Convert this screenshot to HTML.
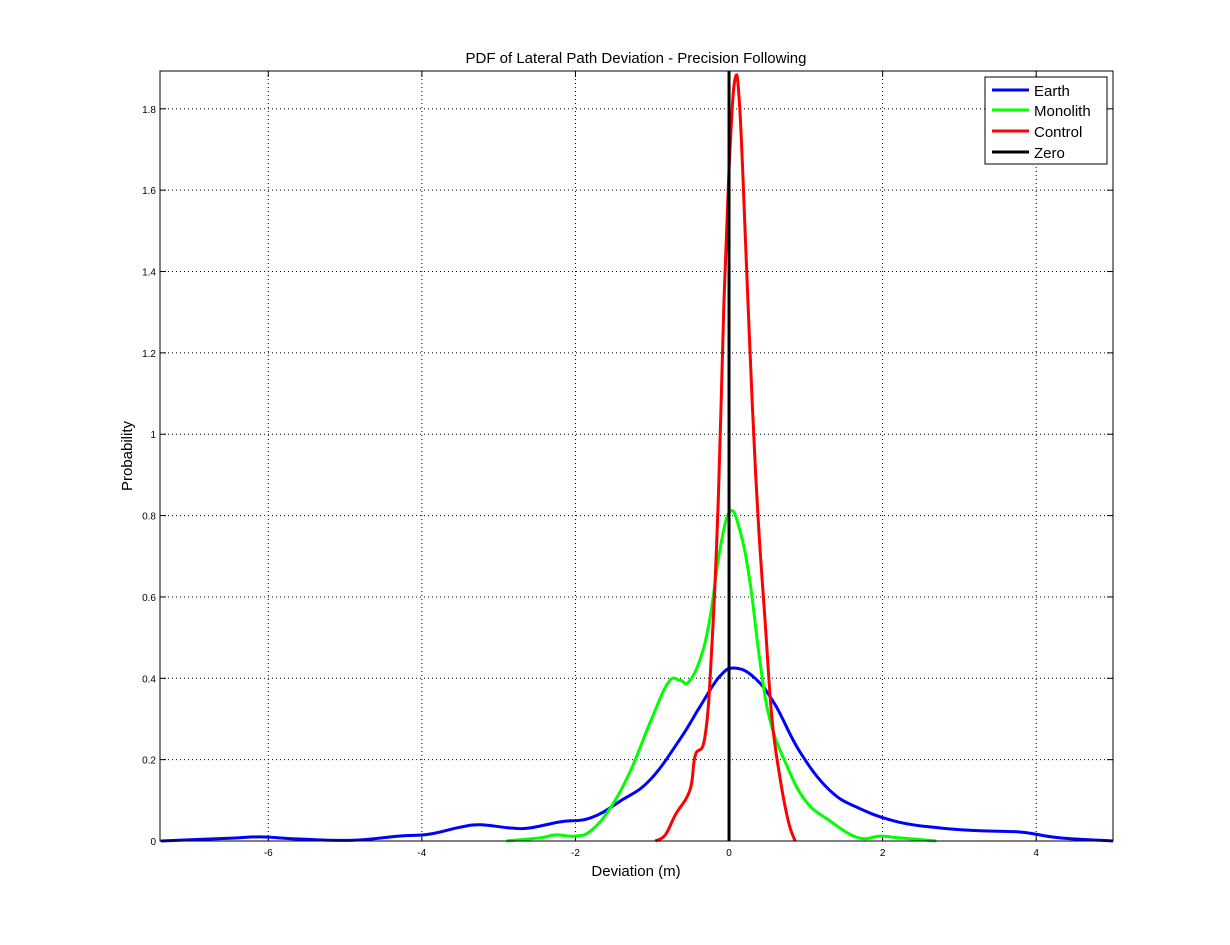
<!DOCTYPE html>
<html><head><meta charset="utf-8"><style>
body{margin:0;background:#fff;}
svg{display:block;font-family:"Liberation Sans",sans-serif;}
</style></head><body>
<svg id="chart" width="1230" height="945">
<rect x="0" y="0" width="1230" height="945" fill="#fff"/>
<g id="grid"></g>
<g id="ticks"></g>
<g id="series"></g>
<rect x="160" y="71" width="953" height="770" fill="none" stroke="#000" stroke-width="1"/>
<text x="636" y="63" font-size="15" text-anchor="middle">PDF of Lateral Path Deviation - Precision Following</text>
<text x="636" y="876" font-size="15" text-anchor="middle">Deviation (m)</text>
<text x="132" y="456" font-size="15" text-anchor="middle" transform="rotate(-90 132 456)">Probability</text>
<g>
<rect x="985" y="77" width="122" height="87" fill="#fff" stroke="#000"/>
<line x1="992" y1="90" x2="1029" y2="90" stroke="#0000ff" stroke-width="3"/>
<text x="1034" y="96" font-size="15">Earth</text>
<line x1="992" y1="110" x2="1029" y2="110" stroke="#00ff00" stroke-width="3"/>
<text x="1034" y="116" font-size="15">Monolith</text>
<line x1="992" y1="131" x2="1029" y2="131" stroke="#ff0000" stroke-width="3"/>
<text x="1034" y="137" font-size="15">Control</text>
<line x1="992" y1="152" x2="1029" y2="152" stroke="#000" stroke-width="3"/>
<text x="1034" y="158" font-size="15">Zero</text>
</g>
</svg>
<script>
const xTicks=[-6,-4,-2,0,2,4];
const yTicks=[0,0.2,0.4,0.6,0.8,1,1.2,1.4,1.6,1.8];
const yTickLabels=["0","0.2","0.4","0.6","0.8","1","1.2","1.4","1.6","1.8"];
const earthX=[-7.4,-6.5,-6.1,-5.6,-4.9,-4.3,-3.9,-3.5,-3.24,-2.85,-2.6,-2.2,-1.8,-1.4,-1.03,-0.64,-0.38,-0.12,0.08,0.34,0.6,0.92,1.31,1.7,2.2,2.75,3.27,3.8,4.3,5];
const earthY=[0,0.007,0.01,0.005,0.002,0.012,0.017,0.034,0.04,0.032,0.032,0.047,0.057,0.1,0.15,0.25,0.33,0.405,0.425,0.4,0.335,0.22,0.125,0.08,0.047,0.032,0.025,0.022,0.008,0];
const monoX=[-2.9,-2.45,-2.26,-2.0,-1.8,-1.55,-1.29,-1.03,-0.79,-0.64,-0.53,-0.38,-0.25,-0.12,0.013,0.14,0.27,0.4,0.53,0.73,0.99,1.31,1.68,1.97,2.2,2.7];
const monoY=[0,0.008,0.015,0.012,0.025,0.08,0.17,0.29,0.39,0.395,0.39,0.445,0.545,0.715,0.81,0.765,0.64,0.445,0.3,0.195,0.1,0.05,0.008,0.012,0.008,0];
const ctrlX=[-0.96,-0.83,-0.7,-0.51,-0.44,-0.31,-0.22,-0.14,-0.065,0.013,0.08,0.14,0.22,0.3,0.38,0.47,0.56,0.66,0.77,0.86];
const ctrlY=[0,0.015,0.064,0.125,0.21,0.26,0.49,0.84,1.33,1.7,1.875,1.8,1.45,1.085,0.79,0.54,0.3,0.16,0.05,0];
const NS='http://www.w3.org/2000/svg';
const X0=160,X1=1113,Y0=841,Y1=71,XMIN=-7.41,XMAX=5.0,YMIN=0,YMAX=1.893;
function sx(v){return X0+(v-XMIN)/(XMAX-XMIN)*(X1-X0);}
function sy(v){return Y0-(v-YMIN)/(YMAX-YMIN)*(Y0-Y1);}
function mk(tag,attrs,parent){const e=document.createElementNS(NS,tag);for(const k in attrs)e.setAttribute(k,attrs[k]);document.getElementById(parent).appendChild(e);return e;}
xTicks.forEach(t=>{
  const g=mk('line',{x1:sx(t),x2:sx(t),y1:Y1,y2:Y0,stroke:'#000','stroke-dasharray':'1,3','stroke-width':1},'grid');
  
  
  const a=mk('line',{x1:sx(t),x2:sx(t),y1:Y0,y2:Y0-6,stroke:'#000'},'ticks');
  
  
  const b=mk('line',{x1:sx(t),x2:sx(t),y1:Y1,y2:Y1+6,stroke:'#000'},'ticks');
  
  
  const l=mk('text',{x:sx(t),y:Y0+15,'font-size':10,'text-anchor':'middle'},'ticks');
  l.textContent=String(t);
  
  
});
yTicks.forEach((t,i)=>{
  const g=mk('line',{x1:X0,x2:X1,y1:sy(t),y2:sy(t),stroke:'#000','stroke-dasharray':'1,3','stroke-width':1},'grid');
  
  
  const a=mk('line',{x1:X0,x2:X0+6,y1:sy(t),y2:sy(t),stroke:'#000'},'ticks');
  
  
  const b=mk('line',{x1:X1,x2:X1-6,y1:sy(t),y2:sy(t),stroke:'#000'},'ticks');
  
  
  const l=mk('text',{x:X0-4,y:sy(t)+4,'font-size':10,'text-anchor':'end'},'ticks');
  l.textContent=yTickLabels[i];
  
  
});
function line(xs,ys,color,name){
  const P=xs.map((x,i)=>[sx(x),sy(ys[i])]);
  let d='M'+P[0][0].toFixed(1)+','+P[0][1].toFixed(1);
  for(let i=0;i<P.length-1;i++){
    const p0=P[Math.max(0,i-1)],p1=P[i],p2=P[i+1],p3=P[Math.min(P.length-1,i+2)];
    const t=0.2;
    const c1=[p1[0]+(p2[0]-p0[0])*t,p1[1]+(p2[1]-p0[1])*t];
    const c2=[p2[0]-(p3[0]-p1[0])*t,p2[1]-(p3[1]-p1[1])*t];
    d+=' C'+c1[0].toFixed(1)+','+c1[1].toFixed(1)+' '+c2[0].toFixed(1)+','+c2[1].toFixed(1)+' '+p2[0].toFixed(1)+','+p2[1].toFixed(1);
  }
  const p=mk('path',{d:d,fill:'none',stroke:color,'stroke-width':3,'stroke-linejoin':'round'},'series');
  
  
}
line(earthX,earthY,'#0000ff','earth-line');
line(monoX,monoY,'#00ff00','monolith-line');
line(ctrlX,ctrlY,'#ff0000','control-line');
const z=mk('line',{x1:sx(0),x2:sx(0),y1:Y1,y2:Y0,stroke:'#000','stroke-width':3},'series');


</script>
</body></html>
